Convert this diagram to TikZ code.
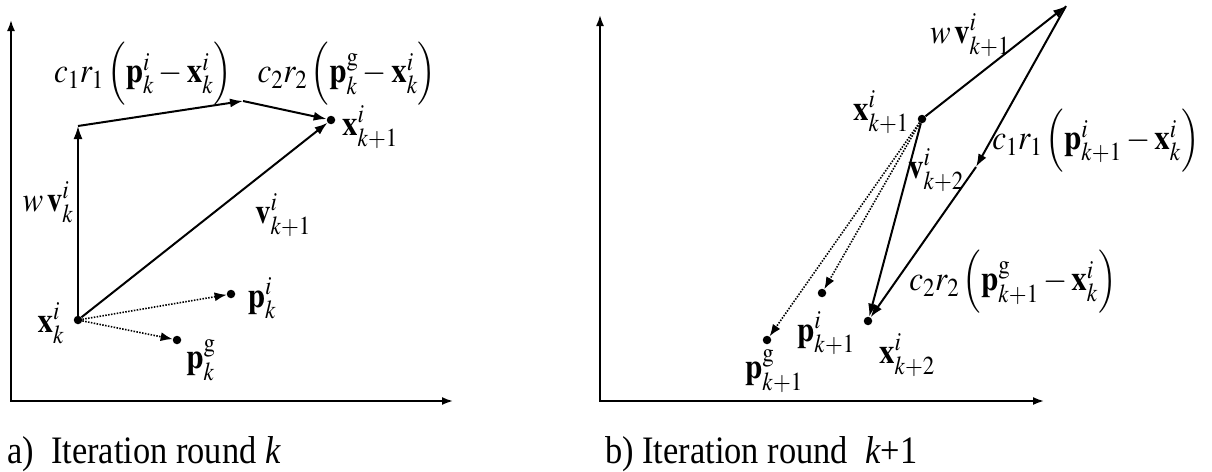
\documentclass[tikz,border=0pt]{standalone}
\usepackage{graphicx}
\usepackage{mathptmx}
\usepackage[no-math]{fontspec}
\setmainfont{Liberation Serif}
\usetikzlibrary{arrows.meta}
\newcommand\vstr[1]{\scalebox{1}[1.13]{#1}}
\begin{document}
\begin{tikzpicture}[x=1pt,y=-1pt,
  axis/.style={line width=1.8pt,{Latex[length=11pt,width=8pt]}-{Latex[length=11pt,width=8pt]}},
  vec/.style={line width=2pt,-{Latex[length=13pt,width=9pt]}},
  dotvec/.style={line width=1.6pt,dash pattern=on 1.5pt off 1.4pt,-{Latex[length=12pt,width=9pt]}},
  dot/.style={circle,fill=black,inner sep=0pt,minimum size=8.5pt},
  lab/.style={inner sep=0pt,font=\fontsize{31}{37}\selectfont},
  captxt/.style={inner sep=0pt,anchor=base west,font=\fontsize{34.4}{41}\selectfont}]
\useasboundingbox (0,0) rectangle (1212,471);
% ---------- left panel ----------
\coordinate (ya) at (11,20);
\coordinate (oa) at (11,401);
\coordinate (xa) at (453,401);
\draw[axis] (ya) -- (oa) -- (xa);
\node[dot] (xk) at (78,320) {};
\coordinate (wt) at (78,126);
\coordinate (m1) at (243,101);
\node[dot] (xk1) at (331,120) {};
\node[dot] (pki) at (231,294) {};
\node[dot] (pkg) at (177,340) {};
\draw[vec] (xk) -- (wt);
\draw[vec] (wt) -- (m1);
\draw[vec] (m1) -- (xk1);
\draw[vec] (xk) -- (xk1);
\draw[dotvec] (xk) -- (pki);
\draw[dotvec] (xk) -- (pkg);
\node[lab] (la1) at (143,74) {\vstr{$c_1 r_1\,\Bigl(\mathbf{p}^i_k-\mathbf{x}^i_k\Bigr)$}};
\node[lab] (la2) at (347,74) {\vstr{$c_2 r_2\,\Bigl(\mathbf{p}^{\mathrm{g}}_k-\mathbf{x}^i_k\Bigr)$}};
\node[lab] (la3) at (370,127) {\vstr{$\mathbf{x}^i_{k+1}$}};
\node[lab] (la4) at (48,202) {\vstr{$w\,\mathbf{v}^i_k$}};
\node[lab] (la5) at (283,215) {\vstr{$\mathbf{v}^i_{k+1}$}};
\node[lab] (la6) at (262,298) {\vstr{$\mathbf{p}^i_k$}};
\node[lab] (la7) at (51,323) {\vstr{$\mathbf{x}^i_k$}};
\node[lab] (la8) at (201,360) {\vstr{$\mathbf{p}^{\mathrm{g}}_k$}};
\node[captxt] (capa) at (7,463) {\vstr{a)\ \ Iteration round \textit{k}}};
% ---------- right panel ----------
\coordinate (yb) at (600,15);
\coordinate (ob) at (600,401);
\coordinate (xb) at (1044,401);
\draw[axis] (yb) -- (ob) -- (xb);
\node[dot] (x1) at (922,119) {};
\coordinate (tp) at (1066,6);
\coordinate (m2) at (976,167);
\node[dot] (x2) at (868,321) {};
\node[dot] (p1) at (822,293) {};
\node[dot] (g1) at (767,340) {};
\draw[vec] (x1) -- (tp);
\draw[vec] (tp) -- (m2);
\draw[vec] (m2) -- (x2);
\draw[vec] (x1) -- (x2);
\draw[dotvec] (x1) -- (p1);
\draw[dotvec] (x1) -- (g1);
\node[lab] (lb1) at (970,35) {\vstr{$w\,\mathbf{v}^i_{k+1}$}};
\node[lab] (lb2) at (881,112) {\vstr{$\mathbf{x}^i_{k+1}$}};
\node[lab] (lb3) at (1096,141) {\vstr{$c_1 r_1\,\Bigl(\mathbf{p}^i_{k+1}-\mathbf{x}^i_k\Bigr)$}};
\node[lab] (lb4) at (936,170) {\vstr{$\mathbf{v}^i_{k+2}$}};
\node[lab] (lb5) at (1013,282) {\vstr{$c_2 r_2\,\Bigl(\mathbf{p}^{\mathrm{g}}_{k+1}-\mathbf{x}^i_k\Bigr)$}};
\node[lab] (lb6) at (826,333) {\vstr{$\mathbf{p}^i_{k+1}$}};
\node[lab] (lb7) at (907,355) {\vstr{$\mathbf{x}^i_{k+2}$}};
\node[lab] (lb8) at (774,371) {\vstr{$\mathbf{p}^{\mathrm{g}}_{k+1}$}};
\node[captxt] (capb) at (605,463) {\vstr{b) Iteration round\ \ \textit{k}+1}};
\end{tikzpicture}
\end{document}
